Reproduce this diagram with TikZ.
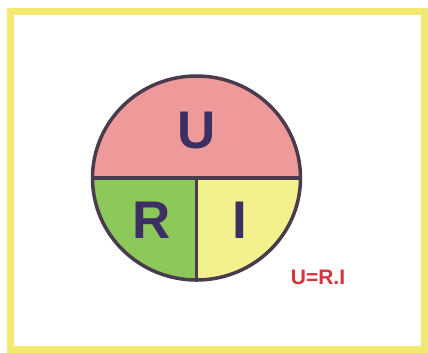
\documentclass[tikz,border=0pt]{standalone}
\usepackage{fontspec}
\setmainfont{Liberation Sans}
\usetikzlibrary{shapes.geometric}
\definecolor{cFrame}{HTML}{F2EA6E}
\definecolor{cTop}{HTML}{EF9A9A}
\definecolor{cLeft}{HTML}{8DC85B}
\definecolor{cRight}{HTML}{F3F08E}
\definecolor{cRim}{HTML}{4B3B4E}
\definecolor{cLetter}{HTML}{3B2F63}
\definecolor{cLaw}{HTML}{D8323A}
\tikzset{
  frameline/.style={draw=cFrame, line width=7pt},
  rim/.style={ellipse, draw=cRim, line width=3.5pt, minimum width=208pt,
    minimum height=204pt, inner sep=0pt},
  divider/.style={draw=cRim, line width=3.5pt},
  letter/.style={font=\bfseries\fontsize{53}{53}\selectfont, text=cLetter, inner sep=0pt},
  law/.style={font=\bfseries\fontsize{21}{21}\selectfont, text=cLaw, inner sep=0pt},
}

\begin{document}
\begin{tikzpicture}[x=1pt, y=-1pt]

  \useasboundingbox (0,0) rectangle (428,353);

  % ----------------------------------------------------------------
  % Yellow frame
  % ----------------------------------------------------------------
  \draw[frameline] (10.5,11.5) rectangle (424.5,349.5);

  % ----------------------------------------------------------------
  % Three coloured sectors, clipped to the disc
  % ----------------------------------------------------------------
  \coordinate (c) at (196.5,178);
  \begin{scope}
    \clip (c) ellipse [x radius=104, y radius=102];
    \fill[cTop] (88,70) rectangle (306,178);
    \fill[cLeft] (88,178) rectangle (196.5,290);
    \fill[cRight] (196.5,178) rectangle (306,290);
  \end{scope}

  % ----------------------------------------------------------------
  % Rim and dividers
  % ----------------------------------------------------------------
  \node[rim] (disc) at (c) {};
  \draw[divider] (disc.west) -- (disc.east);
  \draw[divider] (c) -- (disc.south);

  % ----------------------------------------------------------------
  % Letters and formula
  % ----------------------------------------------------------------
  \node[letter] (u) at (197,131) {U};
  \node[letter] (r) at (152,220) {R};
  \node[letter] (i) at (240,220) {I};

  \node[law] (formula) at (318,277.5) {U=R.I};

\end{tikzpicture}
\end{document}
